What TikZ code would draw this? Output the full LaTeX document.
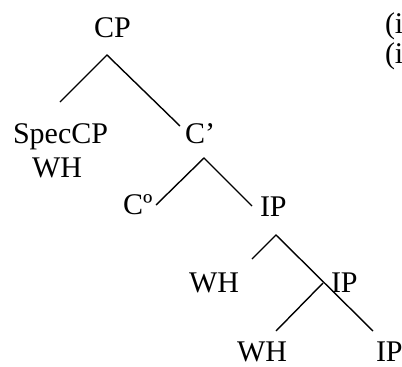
\documentclass[tikz,border=0pt]{standalone}
\usepackage{fontspec}
\setmainfont{Liberation Serif}
\tikzset{
  lbl/.style={anchor=base west, inner sep=0pt, outer sep=0pt, font=\fontsize{30}{34}\selectfont},
  branch/.style={line width=1.4pt, line cap=butt}
}
\begin{document}
\begin{tikzpicture}[x=1pt, y=-1pt]
\path[use as bounding box] (0,0) rectangle (402,367);
% labels
\node[lbl] (cp) at (94,37) {CP};
\node[lbl] (spec) at (13,143) {SpecCP};
\node[lbl] (wh1) at (32,177) {WH};
\node[lbl] (cbar) at (185,143) {C’};
\node[lbl] (c0) at (123,214) {Cº};
\node[lbl] (ip1) at (260,216) {IP};
\node[lbl] (wh2) at (189,292) {WH};
\node[lbl] (ip2) at (331,292) {IP};
\node[lbl] (wh3) at (237,361) {WH};
\node[lbl] (ip3) at (376,361) {IP};
\begin{scope}
\clip (0,0) rectangle (402,367);
\node[lbl] (ex1) at (385,33) {(i};
\node[lbl] (ex2) at (385,63) {(i};
\end{scope}
% branch points
\coordinate (a1) at (107,55);
\coordinate (a1l) at (60,102);
\coordinate (a1r) at (180,126);
\coordinate (a2) at (204,158);
\coordinate (a2l) at (156,205);
\coordinate (a2r) at (252,206);
\coordinate (a3) at (276,235);
\coordinate (a3l) at (252,259);
\coordinate (a3r) at (373,331);
\coordinate (a4) at (323,283);
\coordinate (a4l) at (276,331);
% branches
\draw[branch] (a1l) -- (a1) -- (a1r);
\draw[branch] (a2l) -- (a2) -- (a2r);
\draw[branch] (a3l) -- (a3) -- (a3r);
\draw[branch] (a4) -- (a4l);
\end{tikzpicture}
\end{document}
